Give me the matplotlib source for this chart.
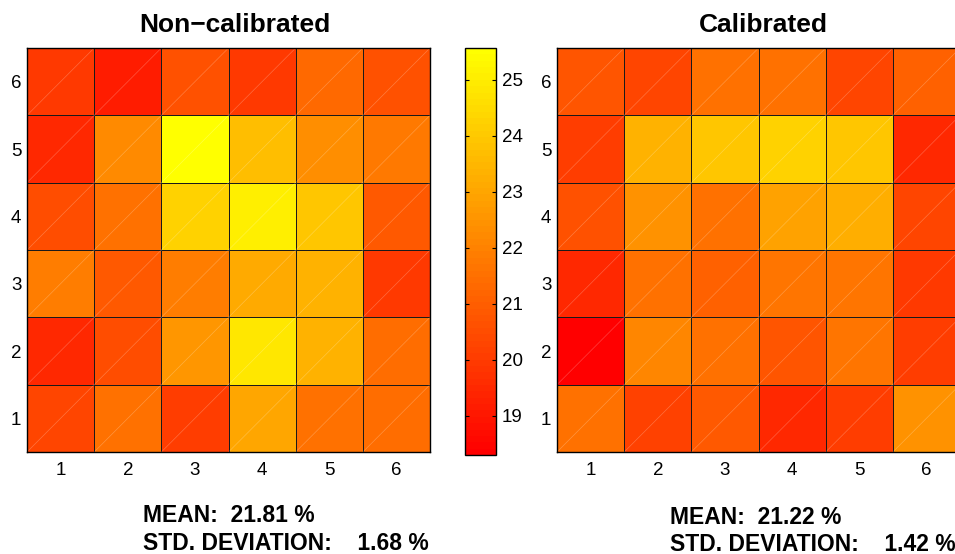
import matplotlib
matplotlib.use("Agg")
import matplotlib.pyplot as plt
import numpy as np

# =============================================================================
# data (rows listed from 1 at bottom to 6 at top, columns 1..6)
# =============================================================================
ticks = [1, 2, 3, 4, 5, 6]

non_calibrated = [
    [20.3, 21.5, 20.1, 23.0, 21.5, 21.4],   # row 1
    [19.5, 20.5, 22.6, 24.8, 23.3, 21.4],   # row 2
    [21.9, 20.9, 21.9, 23.1, 23.4, 20.0],   # row 3
    [20.5, 21.5, 24.3, 25.1, 23.9, 20.9],   # row 4
    [19.5, 22.2, 25.5, 23.7, 22.3, 21.8],   # row 5
    [20.0, 19.2, 20.6, 20.0, 21.3, 20.6],   # row 6
]

calibrated = [
    [21.5, 20.2, 20.8, 19.5, 20.1, 22.5],
    [18.3, 22.1, 21.5, 20.7, 21.7, 20.1],
    [19.5, 21.5, 21.1, 21.6, 21.7, 20.0],
    [20.6, 22.4, 21.5, 22.9, 23.2, 20.3],
    [20.1, 23.4, 23.9, 24.3, 23.9, 19.5],
    [20.7, 20.3, 21.5, 21.5, 20.3, 21.1],
]

cbar_ticks = [19, 20, 21, 22, 23, 24, 25]
clim = (18.3, 25.57)

titles = ["Non\u2212calibrated", "Calibrated"]
mean_txt = ["MEAN:  21.81 %", "MEAN:  21.22 %"]
std_txt = ["STD. DEVIATION:    1.68 %", "STD. DEVIATION:    1.42 %"]

# =============================================================================
# figure
# =============================================================================
plt.rcParams['font.family'] = ['Liberation Sans', 'DejaVu Sans']
W, H = 955, 554
fig = plt.figure(figsize=(W / 100, H / 100), dpi=100)
cmap = plt.get_cmap('autumn', 64)

def px(x0, y0, x1, y1):
    # pixel box -> figure fraction
    return [x0 / W, 1 - y1 / H, (x1 - x0) / W, (y1 - y0) / H]

ax_l = fig.add_axes(px(27, 48, 430, 452))
ax_r = fig.add_axes(px(557, 48, 960, 452))
cax = fig.add_axes(px(465, 48, 496, 455))

edges = np.arange(0.5, 7.0, 1.0)
for ax, data in zip([ax_l, ax_r], [non_calibrated, calibrated]):
    z = np.array(data)
    mesh = ax.pcolormesh(edges, edges, z, cmap=cmap, vmin=clim[0], vmax=clim[1],
                         edgecolors='#1a1a1a', linewidth=0.7)
    # faint diagonal seams of the original render
    for i in ticks:
        for j in ticks:
            ax.plot([j - 0.5, j + 0.5], [i - 0.5, i + 0.5], color='white',
                    alpha=0.25, lw=0.5)
    ax.set_xlim(0.5, 6.5)
    ax.set_ylim(0.5, 6.5)
    ax.set_xticks(ticks)
    ax.set_yticks(ticks)
    ax.tick_params(length=0, labelsize=13.5)
    ax.tick_params(axis='x', pad=7)
    ax.tick_params(axis='y', pad=4)
    for s in ax.spines.values():
        s.set_linewidth(1.0)

cb = fig.colorbar(mesh, cax=cax, ticks=cbar_ticks)
cb.outline.set_linewidth(1.0)
cax.tick_params(direction='in', left=True, right=True, length=3, width=0.8,
                labelsize=13.5, pad=4)

# titles
fig.text(235 / W, 1 - 32.5 / H, titles[0], ha='center', va='baseline',
         fontsize=19, fontweight='bold')
fig.text(763.5 / W, 1 - 32.5 / H, titles[1], ha='center', va='baseline',
         fontsize=19, fontweight='bold')

# statistics below each map
fig.text(143 / W, 1 - 522 / H, mean_txt[0], ha='left', va='baseline',
         fontsize=16.5, fontweight='bold')
fig.text(143 / W, 1 - 550 / H, std_txt[0], ha='left', va='baseline',
         fontsize=16.5, fontweight='bold')
fig.text(670 / W, 1 - 524 / H, mean_txt[1], ha='left', va='baseline',
         fontsize=16.5, fontweight='bold')
fig.text(670 / W, 1 - 551 / H, std_txt[1], ha='left', va='baseline',
         fontsize=16.5, fontweight='bold')

fig.savefig('out.png', dpi=100)
